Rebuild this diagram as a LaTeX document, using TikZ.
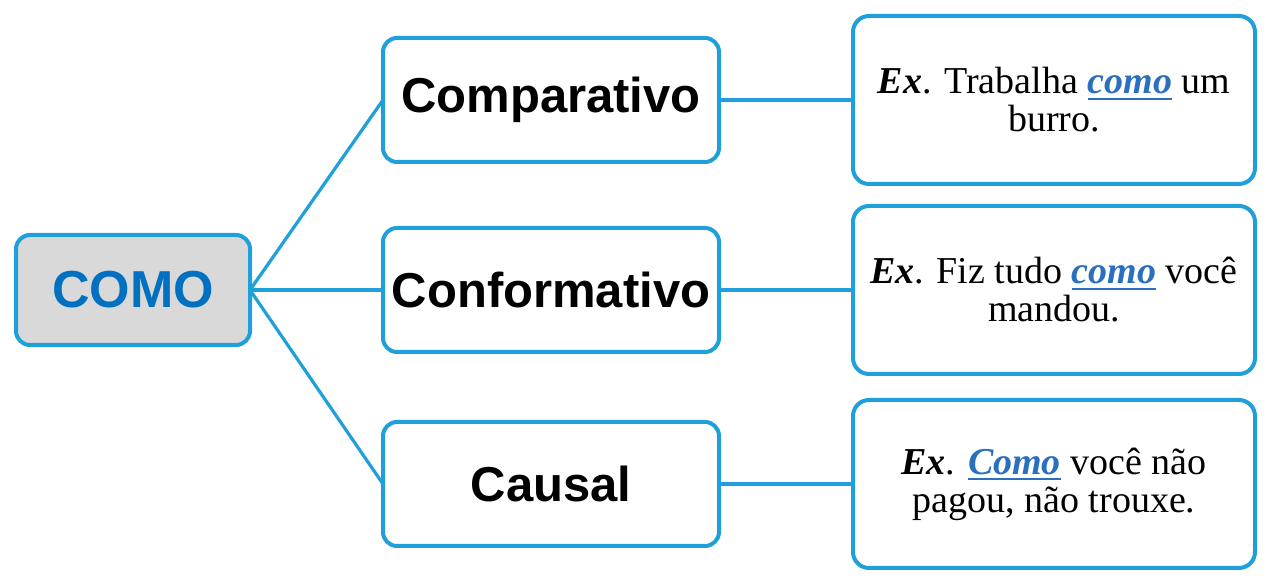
\documentclass[tikz,border=0pt]{standalone}
\usepackage{fontspec}
\setmainfont{Liberation Serif}
\setsansfont{Liberation Sans}
\usepackage{tikz}
\usetikzlibrary{positioning}
\definecolor{lineblue}{HTML}{1FA0DA}
\definecolor{boxgray}{HTML}{D9D9D9}
\definecolor{titleblue}{HTML}{0070C0}
\definecolor{wordblue}{HTML}{2A70BE}
\tikzset{outer sep=0pt, node distance=1cm}
\tikzstyle{root} = [draw=lineblue, line width=2pt, fill=boxgray, rectangle, rounded corners=7pt, minimum width=117pt, minimum height=55pt, font=\sffamily\bfseries\fontsize{26}{26}\selectfont, text=titleblue]
\tikzstyle{kind} = [draw=lineblue, line width=2pt, fill=white, rectangle, rounded corners=7pt, minimum width=168pt, minimum height=62pt, font=\sffamily\bfseries\fontsize{24.5}{24.5}\selectfont]
\tikzstyle{sample} = [draw=lineblue, line width=2pt, fill=white, rectangle, rounded corners=8pt, minimum width=201pt, minimum height=84pt, align=center, font=\fontsize{19}{19}\selectfont]
\tikzstyle{link} = [draw=lineblue, line width=1.6pt]
\newcommand{\ex}{\textbf{\textit{Ex}}.}
\newcommand{\hl}[1]{\textcolor{wordblue}{\setbox0\hbox{\textbf{\textit{#1}}}\rlap{\rule[-3pt]{\wd0}{1pt}}\box0}}

\begin{document}
\begin{tikzpicture}[x=0.5pt, y=-0.5pt]
		\useasboundingbox (0,0) rectangle (1271,587);
		\node [root] (como) at (133,290) {COMO};
		\node [kind, right=66.5pt of como] (conf) {Conformativo};
		\node [kind, above=33pt of conf] (comp) {Comparativo};
		\node [kind, below=35pt of conf] (caus) {Causal};

		\node [sample, right=67pt of comp] (ex_comp) {\ex{} Trabalha \hl{como} um\\burro.};
		\node [sample, right=67pt of conf] (ex_conf) {\ex{} Fiz tudo \hl{como} você\\mandou.};
		\node [sample, right=67pt of caus] (ex_caus) {\ex{} \hl{Como} você não\\pagou, não trouxe.};

		\draw [link] (como.east) -- (comp.west);
		\draw [link] (como.east) -- (conf.west);
		\draw [link] (como.east) -- (caus.west);
		\draw [link] (comp) -- (ex_comp);
		\draw [link] (conf) -- (ex_conf);
		\draw [link] (caus) -- (ex_caus);
	\end{tikzpicture}
\end{document}
